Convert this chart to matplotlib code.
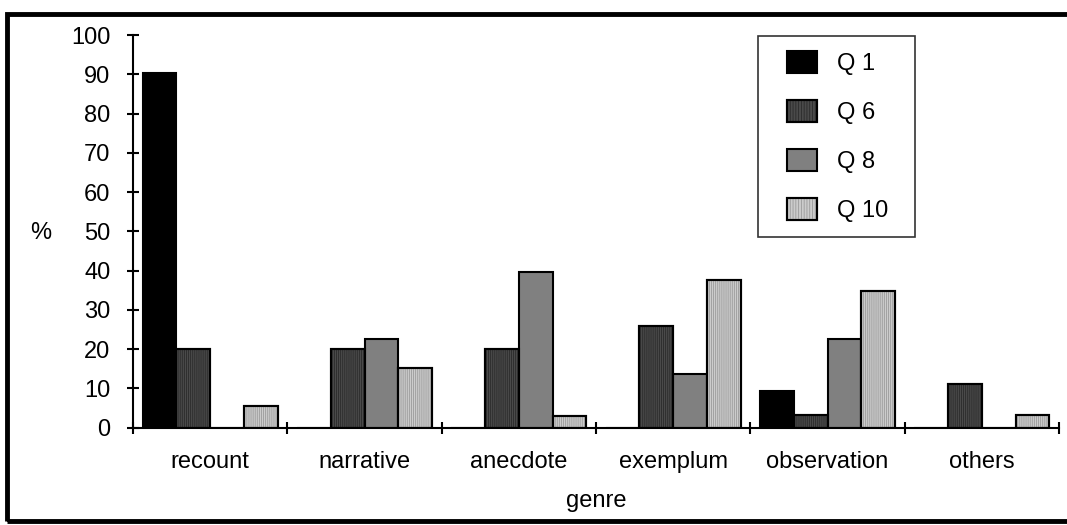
import matplotlib
matplotlib.use("Agg")
import matplotlib.pyplot as plt
import numpy as np
from matplotlib.patches import Rectangle
from matplotlib.legend_handler import HandlerBase

plt.rcParams['font.family'] = ['Liberation Sans', 'DejaVu Sans']
plt.rcParams['hatch.linewidth'] = 0.6

genres = ["recount", "narrative", "anecdote", "exemplum", "observation", "others"]
series = ["Q 1", "Q 6", "Q 8", "Q 10"]
q1 = [90.4, 0, 0, 0, 9.4, 0]
q6 = [20, 20, 20, 26, 3.2, 11.2]
q8 = [0, 22.6, 39.6, 13.8, 22.6, 0]
q10 = [5.6, 15.2, 3.1, 37.5, 34.8, 3.2]
y_ticks = list(range(0, 101, 10))

faces = ["#000000", "#4a4a4a", "#808080", "#cccccc"]
stripes = [None, "#2a2a2a", None, "#9a9a9a"]
FS = 17


class Swatch:
    def __init__(self, face, stripe):
        self.face = face
        self.stripe = stripe


class SwatchHandler(HandlerBase):
    # square key pushed a bit right of the legend border
    inset = 10

    def create_artists(self, legend, orig, xdescent, ydescent, width, height, fontsize, trans):
        x0, y0 = -xdescent + self.inset, -ydescent
        w = width - self.inset
        arts = [Rectangle((x0, y0), w, height, facecolor=orig.face, edgecolor="black",
                          linewidth=1.5, transform=trans)]
        if orig.stripe is not None:
            arts.append(Rectangle((x0, y0), w, height, facecolor="none", edgecolor=orig.stripe,
                                  linewidth=0, hatch="||||||", transform=trans))
            arts.append(Rectangle((x0, y0), w, height, facecolor="none", edgecolor="black",
                                  linewidth=1.5, transform=trans))
        return arts


fig = plt.figure(figsize=(10.67, 5.25), dpi=100)
ax = fig.add_axes([0.1247, 0.1853, 0.8678, 0.748])

n = len(genres)
x = np.arange(n) + 0.5
w = 0.219
for j, vals in enumerate([q1, q6, q8, q10]):
    pos = x + (j - 1.5) * w
    ax.bar(pos, vals, w, color=faces[j], edgecolor="black", linewidth=1.5, zorder=2)
    if stripes[j] is not None:
        ax.bar(pos, vals, w, color="none", edgecolor=stripes[j], linewidth=0,
               hatch="||||||||", zorder=2.5)
        # outline again on top of the stripes
        ax.bar(pos, vals, w, color="none", edgecolor="black", linewidth=1.5, zorder=3)

ax.set_xlim(0, n)
ax.set_ylim(0, 100)
ax.set_yticks(y_ticks)
ax.set_xticks(np.arange(n + 1))
ax.set_xticklabels([])
ax.set_xticks(x, minor=True)
ax.set_xticklabels(genres, minor=True, fontsize=FS)
ax.tick_params(axis="x", which="minor", length=0, pad=17)
ax.tick_params(axis="both", which="major", direction="inout", length=8.6, width=1.5,
               labelsize=FS)
ax.tick_params(axis="y", pad=12)

for s in ["top", "right"]:
    ax.spines[s].set_visible(False)
for s in ["left", "bottom"]:
    ax.spines[s].set_linewidth(1.5)
    ax.spines[s].set_zorder(4)

ax.set_xlabel("genre", fontsize=FS, labelpad=12)
ax.text(-0.1, 0.496, "%", transform=ax.transAxes, fontsize=FS, ha="center", va="center")

swatches = [Swatch(f, s) for f, s in zip(faces, stripes)]
leg = fig.legend(swatches, series, handler_map={Swatch: SwatchHandler()},
                 loc="upper left", bbox_to_anchor=(0.710, 0.932, 0.1474, 0), mode="expand",
                 borderaxespad=0, fontsize=FS, frameon=True, fancybox=False,
                 edgecolor="black", handlelength=1.85, handleheight=1.06,
                 labelspacing=1.05, handletextpad=0.85, borderpad=0.65)
leg.get_frame().set_linewidth(1.2)

# outer frame round the whole chart
fig.patches.append(Rectangle((0.0066, 0.0076), 1.1, 0.9648, transform=fig.transFigure,
                             fill=False, edgecolor="black", linewidth=3.5))

fig.savefig("out.png", dpi=100)
